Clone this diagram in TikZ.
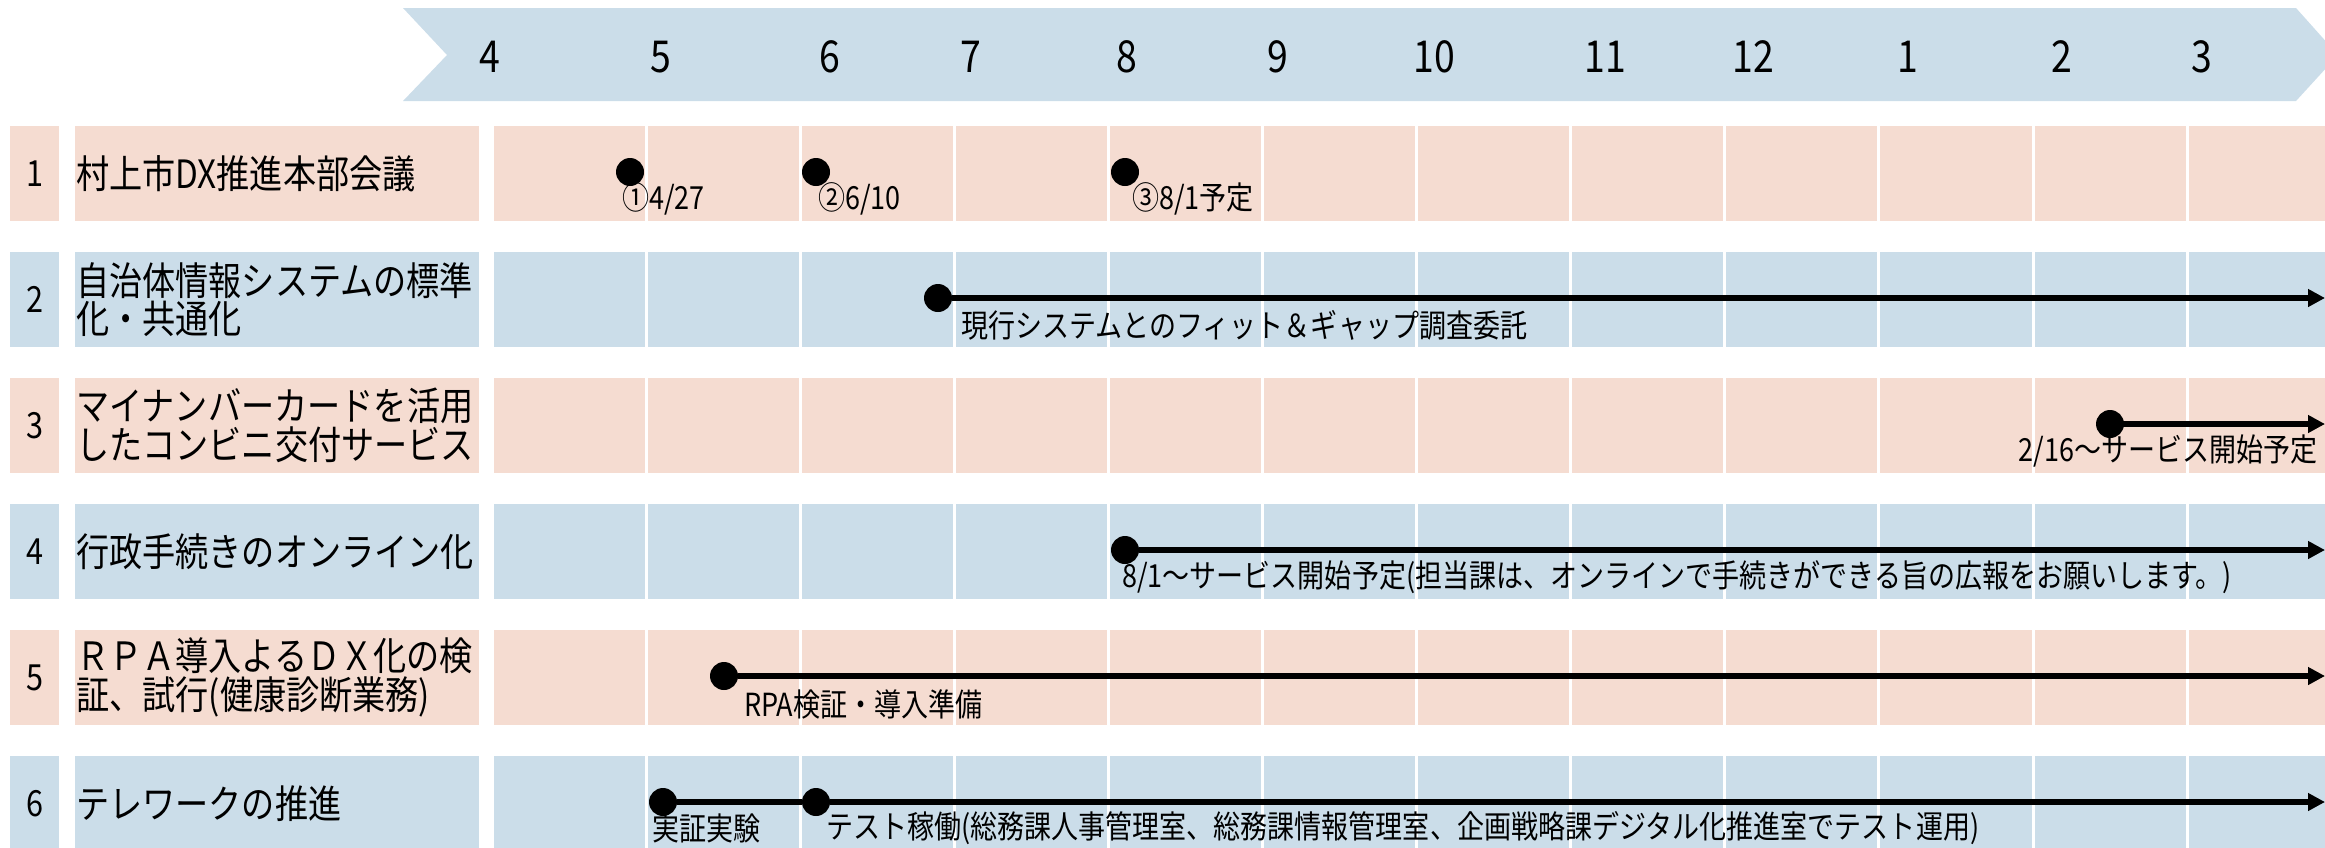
\documentclass[tikz,border=0pt]{standalone}
\usepackage{fontspec}
\newfontfamily\jp[FakeStretch=0.85]{Noto Sans CJK JP}
\usetikzlibrary{arrows.meta}
\definecolor{pinkfill}{RGB}{245,220,209}
\definecolor{bluefill}{RGB}{203,221,233}
\tikzset{
  numtxt/.style={inner sep=0pt, font=\jp\fontsize{36}{36}\selectfont},
  labtxt/.style={inner sep=0pt, anchor=west, align=left, font=\jp\fontsize{39}{38.5}\selectfont},
  monthtxt/.style={inner sep=0pt, font=\jp\fontsize{44}{44}\selectfont},
  anntxt/.style={inner sep=0pt, font=\jp\fontsize{31.8}{31.8}\selectfont},
  dot/.style={circle, fill=black, inner sep=0pt, minimum size=28pt},
  conn/.style={line width=6.7pt, -{Triangle[length=17pt,width=17pt]}},
  plain/.style={line width=6.7pt},
  divider/.style={white, line width=3pt}
}
\begin{document}
\begin{tikzpicture}[x=1pt,y=-1pt]
\useasboundingbox (0,0) rectangle (2325,847);
% banner
\fill[bluefill] (403,8) -- (2296,8) -- (2338,55) -- (2296,101) -- (403,101) -- (447,55) -- cycle;
\node[monthtxt] (m4) at (490,57) {4};
\node[monthtxt] (m5) at (661,57) {5};
\node[monthtxt] (m6) at (830,57) {6};
\node[monthtxt] (m7) at (971,57) {7};
\node[monthtxt] (m8) at (1127,57) {8};
\node[monthtxt] (m9) at (1278,57) {9};
\node[monthtxt] (m10) at (1434,57) {10};
\node[monthtxt] (m11) at (1605,57) {11};
\node[monthtxt] (m12) at (1753,57) {12};
\node[monthtxt] (m1) at (1908,57) {1};
\node[monthtxt] (m2) at (2062,57) {2};
\node[monthtxt] (m3) at (2202,57) {3};
% rows
\foreach \t/\c in {126/pinkfill,252/bluefill,378/pinkfill,504/bluefill,630/pinkfill,756/bluefill}{
  \fill[\c] (10,\t) rectangle (59,\t+95);
  \fill[\c] (75,\t) rectangle (479,\t+95);
  \fill[\c] (494,\t) rectangle (2330,\t+95);
  \foreach \k in {1,...,11}{
    \draw[divider] (492+154.1*\k,\t) -- (492+154.1*\k,\t+95);
  }
}
% numbers and labels
\node[numtxt] (n1) at (34.5,173.5) {1};
\node[numtxt] (n2) at (34.5,299.5) {2};
\node[numtxt] (n3) at (34.5,425.5) {3};
\node[numtxt] (n4) at (34.5,551.5) {4};
\node[numtxt] (n5) at (34.5,677.5) {5};
\node[numtxt] (n6) at (34.5,803.5) {6};
\node[labtxt] (l1) at (76,173.5) {村上市DX推進本部会議};
\node[labtxt] (l2) at (76,299.5) {自治体情報システムの標準\\化・共通化};
\node[labtxt] (l3) at (76,425.5) {マイナンバーカードを活用\\したコンビニ交付サービス};
\node[labtxt] (l4) at (76,551.5) {行政手続きのオンライン化};
\node[labtxt] (l5) at (76,677.5) {ＲＰＡ導入よるＤＸ化の検\\証、試行(健康診断業務)};
\node[labtxt] (l6) at (76,803.5) {テレワークの推進};
% row 1 events
\node[dot] (d1a) at (630,172) {};
\node[dot] (d1b) at (816,172) {};
\node[dot] (d1c) at (1125,172) {};
\node[anntxt, anchor=west] (a1a) at (622,199) {①4/27};
\node[anntxt, anchor=west] (a1b) at (818,199) {②6/10};
\node[anntxt, anchor=west] (a1c) at (1132,199) {③8/1予定};
% row 2
\node[dot] (d2) at (938,298) {};
\coordinate (e2) at (2325,298);
\draw[conn] (d2) -- (e2);
\node[anntxt, anchor=west] (a2) at (961,325) {現行システムとのフィット＆ギャップ調査委託};
% row 3
\node[dot] (d3) at (2110,424) {};
\coordinate (e3) at (2325,424);
\draw[conn] (d3) -- (e3);
\node[anntxt, anchor=east] (a3) at (2318,451) {2/16～サービス開始予定};
% row 4
\node[dot] (d4) at (1125,550) {};
\coordinate (e4) at (2325,550);
\draw[conn] (d4) -- (e4);
\node[anntxt, anchor=west] (a4) at (1122,577) {8/1～サービス開始予定(担当課は、オンラインで手続きができる旨の広報をお願いします。)};
% row 5
\node[dot] (d5) at (724,676) {};
\coordinate (e5) at (2325,676);
\draw[conn] (d5) -- (e5);
\node[anntxt, anchor=west] (a5) at (744,704) {RPA検証・導入準備};
% row 6
\node[dot] (d6a) at (663,802) {};
\node[dot] (d6b) at (816,802) {};
\coordinate (e6) at (2325,802);
\draw[plain] (d6a) -- (d6b);
\draw[conn] (d6b) -- (e6);
\node[anntxt, anchor=west] (a6a) at (652,828) {実証実験};
\node[anntxt, anchor=west] (a6b) at (826,828) {テスト稼働(総務課人事管理室、総務課情報管理室、企画戦略課デジタル化推進室でテスト運用)};
\end{tikzpicture}
\end{document}
